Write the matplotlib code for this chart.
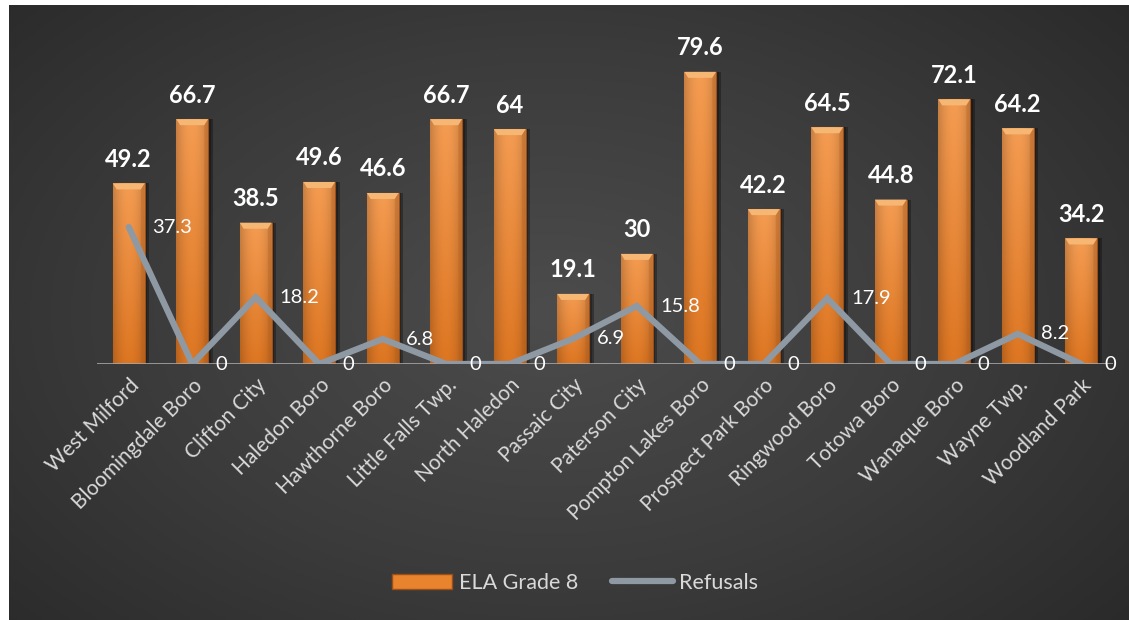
import numpy as np
import matplotlib
matplotlib.use("Agg")
import matplotlib.pyplot as plt
from matplotlib.colors import LinearSegmentedColormap
from matplotlib.patches import Patch
from matplotlib.lines import Line2D

categories = ["West Milford", "Bloomingdale Boro", "Clifton City", "Haledon Boro",
              "Hawthorne Boro", "Little Falls Twp.", "North Haledon", "Passaic City",
              "Paterson City", "Pompton Lakes Boro", "Prospect Park Boro", "Ringwood Boro",
              "Totowa Boro", "Wanaque Boro", "Wayne Twp.", "Woodland Park"]
ela = [49.2, 66.7, 38.5, 49.6, 46.6, 66.7, 64, 19.1, 30, 79.6, 42.2, 64.5, 44.8, 72.1, 64.2, 34.2]
refusals = [37.3, 0, 18.2, 0, 6.8, 0, 0, 6.9, 15.8, 0, 0, 17.9, 0, 0, 8.2, 0]

plt.rcParams['font.family'] = ['Lato', 'DejaVu Sans']

W, H = 1129, 620
fig = plt.figure(figsize=(W / 100, H / 100), dpi=100)
fig.patch.set_facecolor('white')

# background radial gradient
bg = fig.add_axes([9 / W, 0, (W - 9) / W, (H - 5) / H])
bg.set_axis_off()
yy, xx = np.mgrid[0:300, 0:560]
cx, cy = 270, 150
r = np.sqrt(((xx - cx) / 420.0) ** 2 + ((yy - cy) / 260.0) ** 2)
r = np.clip(r, 0, 1)
bgcmap = LinearSegmentedColormap.from_list('bg', ['#4c4c4c', '#3b3b3b', '#262626'])
bg.imshow(r, cmap=bgcmap, aspect='auto', extent=[0, 1, 0, 1], vmin=0, vmax=1)
bg.set_xlim(0, 1)
bg.set_ylim(0, 1)

ax = fig.add_axes([97 / W, (H - 364) / H, 1016 / W, (364 - 30) / H])
ax.set_facecolor('none')
x = np.arange(len(categories))
ax.set_xlim(-0.5, len(categories) - 0.5)
ax.set_ylim(0, 91)

bw = 0.5
# shadows
ax.bar(x + 0.07, ela, width=bw, color='black', alpha=0.3, zorder=1)
ax.bar(x + 0.04, ela, width=bw, color='black', alpha=0.25, zorder=1)
bars = ax.bar(x, ela, width=bw, color='#E8832E', edgecolor='#9a4e18', linewidth=0.8, zorder=2)

# gradient fill for bars
nx = 40
h_prof = np.linspace(-1, 1, nx)
h_shade = 1 - 0.18 * np.abs(h_prof) ** 2
v = np.linspace(0, 1, 60)[:, None]
top_c = np.array([0xF4, 0x9C, 0x52]) / 255.0
bot_c = np.array([0xDD, 0x76, 0x22]) / 255.0
grad = (bot_c[None, None, :] * (1 - v[..., None]) + top_c[None, None, :] * v[..., None])
grad = grad * h_shade[None, :, None]
grad = np.clip(grad, 0, 1)
px_per_unit = ax.transData.transform((0, 1))[1] - ax.transData.transform((0, 0))[1]
bevel = 6 / px_per_unit
for b in bars:
    x0, w, hgt = b.get_x(), b.get_width(), b.get_height()
    im = ax.imshow(grad, extent=[x0, x0 + w, 0, hgt], origin='lower', aspect='auto', zorder=2.1)
    im.set_clip_path(b)
    # top bevel
    ax.fill([x0, x0 + w, x0 + w * 0.88, x0 + w * 0.12], [hgt, hgt, hgt - bevel, hgt - bevel],
            color='#F7B774', zorder=2.2, lw=0)
    ax.fill([x0 + w * 0.88, x0 + w, x0 + w, x0 + w * 0.88], [hgt - bevel, hgt, 0, 0],
            color='#b8601e', alpha=0.35, zorder=2.2, lw=0)
ax.set_xlim(-0.5, len(categories) - 0.5)
ax.set_ylim(0, 91)

# baseline
ax.axhline(0, color='#a6a6a6', lw=1.2, zorder=2.5)

# refusals line
ax.plot(x, refusals, color='#8E99A4', lw=4.5, solid_joinstyle='miter', solid_capstyle='round', zorder=3)

for xi, val in zip(x, ela):
    ax.annotate(f"{val:g}", (xi, val), xytext=(0, 9), textcoords='offset points',
                ha='center', va='bottom', color='white', fontsize=17, fontweight='bold', zorder=4)
for xi, val in zip(x, refusals):
    ax.annotate(f"{val:g}", (xi, val), xytext=(17, 0), textcoords='offset points',
                ha='left', va='center', color='white', fontsize=14.5, zorder=4)

ax.set_xticks(x)
ax.set_xticklabels(categories, rotation=45, ha='right', rotation_mode='anchor',
                   color='#d9d9d9', fontsize=15)
ax.tick_params(axis='x', length=0, pad=8)
ax.set_yticks([])
for s in ax.spines.values():
    s.set_visible(False)

handles = [Patch(facecolor='#E8832E', edgecolor='#9a4e18', label='ELA Grade 8'),
           Line2D([0], [0], color='#8E99A4', lw=4.5, solid_capstyle='round', label='Refusals')]
leg = fig.legend(handles=handles, loc='center', bbox_to_anchor=(575 / W, 1 - 583 / H), ncol=2,
                 frameon=False, fontsize=15.5, handlelength=2.8, handletextpad=0.3, columnspacing=1.6,
                 labelcolor='#d9d9d9')

fig.savefig('out.png', dpi=100, facecolor=fig.get_facecolor())
